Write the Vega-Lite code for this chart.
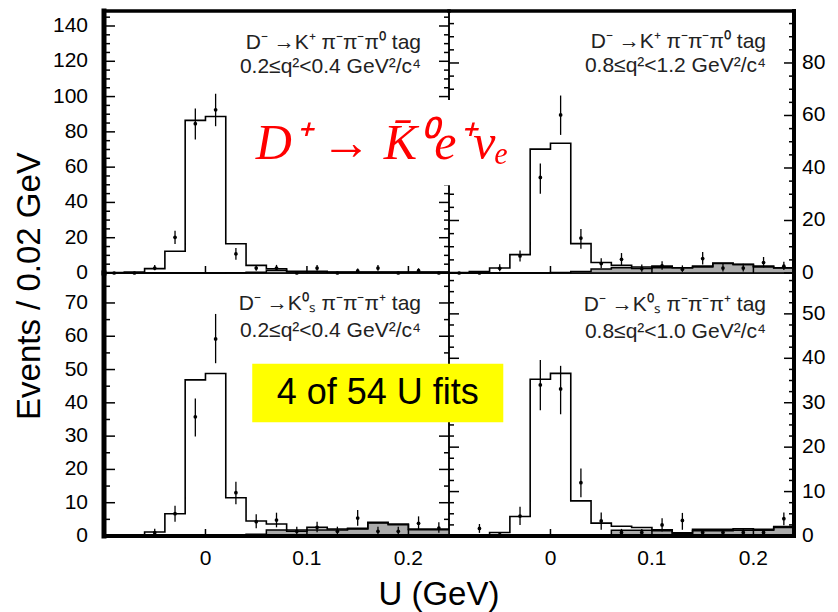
{
  "$schema": "https://vega.github.io/schema/vega-lite/v6.json",
  "background": "white",
  "padding": {"left": 13, "top": 6, "right": 5, "bottom": 3},
  "datasets": {
    "hist": [
      {"p": "TL", "u": -0.1, "tot": 0.3, "bkg": 0},
      {"p": "TL", "u": -0.08, "tot": 0.5, "bkg": 0},
      {"p": "TL", "u": -0.06, "tot": 2.5, "bkg": 0},
      {"p": "TL", "u": -0.04, "tot": 12.3, "bkg": 0},
      {"p": "TL", "u": -0.02, "tot": 86.5, "bkg": 0},
      {"p": "TL", "u": 0, "tot": 88.7, "bkg": 0},
      {"p": "TL", "u": 0.02, "tot": 16.6, "bkg": 0.1},
      {"p": "TL", "u": 0.04, "tot": 4.3, "bkg": 0.4},
      {"p": "TL", "u": 0.06, "tot": 2.4, "bkg": 1.6},
      {"p": "TL", "u": 0.08, "tot": 1.0, "bkg": 0.5},
      {"p": "TL", "u": 0.1, "tot": 1.0, "bkg": 0.5},
      {"p": "TL", "u": 0.12, "tot": 0.6, "bkg": 0.4},
      {"p": "TL", "u": 0.14, "tot": 0.5, "bkg": 0.4},
      {"p": "TL", "u": 0.16, "tot": 0.5, "bkg": 0.4},
      {"p": "TL", "u": 0.18, "tot": 0.5, "bkg": 0.4},
      {"p": "TL", "u": 0.2, "tot": 0.5, "bkg": 0.4},
      {"p": "TL", "u": 0.22, "tot": 0.5, "bkg": 0.4},
      {"p": "TL", "u": 0.24, "tot": 0.5, "bkg": 0.4},
      {"p": "TR", "u": -0.1, "tot": 0.2, "bkg": 0},
      {"p": "TR", "u": -0.08, "tot": 0.6, "bkg": 0},
      {"p": "TR", "u": -0.06, "tot": 1.9, "bkg": 0},
      {"p": "TR", "u": -0.04, "tot": 7.0, "bkg": 0},
      {"p": "TR", "u": -0.02, "tot": 47.2, "bkg": 0},
      {"p": "TR", "u": 0, "tot": 49.4, "bkg": 0.2},
      {"p": "TR", "u": 0.02, "tot": 11.2, "bkg": 0.6},
      {"p": "TR", "u": 0.04, "tot": 4.0, "bkg": 1.5},
      {"p": "TR", "u": 0.06, "tot": 2.9, "bkg": 2.0},
      {"p": "TR", "u": 0.08, "tot": 2.3, "bkg": 1.7},
      {"p": "TR", "u": 0.1, "tot": 2.6, "bkg": 2.0},
      {"p": "TR", "u": 0.12, "tot": 2.0, "bkg": 2.0},
      {"p": "TR", "u": 0.14, "tot": 2.6, "bkg": 2.3},
      {"p": "TR", "u": 0.16, "tot": 3.8, "bkg": 3.6},
      {"p": "TR", "u": 0.18, "tot": 3.3, "bkg": 3.2},
      {"p": "TR", "u": 0.2, "tot": 2.6, "bkg": 2.3},
      {"p": "TR", "u": 0.22, "tot": 2.0, "bkg": 1.9},
      {"p": "TR", "u": 0.24, "tot": 2.0, "bkg": 1.9},
      {"p": "BL", "u": -0.1, "tot": 0, "bkg": 0},
      {"p": "BL", "u": -0.08, "tot": 0, "bkg": 0},
      {"p": "BL", "u": -0.06, "tot": 1.2, "bkg": 0},
      {"p": "BL", "u": -0.04, "tot": 6.7, "bkg": 0},
      {"p": "BL", "u": -0.02, "tot": 46.9, "bkg": 0},
      {"p": "BL", "u": 0, "tot": 48.8, "bkg": 0},
      {"p": "BL", "u": 0.02, "tot": 11.5, "bkg": 0.2},
      {"p": "BL", "u": 0.04, "tot": 4.5, "bkg": 0.5},
      {"p": "BL", "u": 0.06, "tot": 3.6, "bkg": 1.8},
      {"p": "BL", "u": 0.08, "tot": 1.8, "bkg": 1.4},
      {"p": "BL", "u": 0.1, "tot": 2.6, "bkg": 1.8},
      {"p": "BL", "u": 0.12, "tot": 2.1, "bkg": 1.8},
      {"p": "BL", "u": 0.14, "tot": 2.3, "bkg": 2.1},
      {"p": "BL", "u": 0.16, "tot": 4.1, "bkg": 3.9},
      {"p": "BL", "u": 0.18, "tot": 3.6, "bkg": 3.4},
      {"p": "BL", "u": 0.2, "tot": 2.1, "bkg": 1.9},
      {"p": "BL", "u": 0.22, "tot": 2.1, "bkg": 1.9},
      {"p": "BL", "u": 0.24, "tot": 2.1, "bkg": 1.9},
      {"p": "BR", "u": -0.1, "tot": 0, "bkg": 0},
      {"p": "BR", "u": -0.08, "tot": 0, "bkg": 0},
      {"p": "BR", "u": -0.06, "tot": 0.8, "bkg": 0},
      {"p": "BR", "u": -0.04, "tot": 4.4, "bkg": 0},
      {"p": "BR", "u": -0.02, "tot": 35.3, "bkg": 0},
      {"p": "BR", "u": 0, "tot": 36.6, "bkg": 0},
      {"p": "BR", "u": 0.02, "tot": 7.9, "bkg": 0.2},
      {"p": "BR", "u": 0.04, "tot": 2.9, "bkg": 0.3},
      {"p": "BR", "u": 0.06, "tot": 2.2, "bkg": 1.3},
      {"p": "BR", "u": 0.08, "tot": 1.9, "bkg": 1.3},
      {"p": "BR", "u": 0.1, "tot": 1.4, "bkg": 1.2},
      {"p": "BR", "u": 0.12, "tot": 0.7, "bkg": 0.6},
      {"p": "BR", "u": 0.14, "tot": 1.5, "bkg": 1.2},
      {"p": "BR", "u": 0.16, "tot": 1.5, "bkg": 1.2},
      {"p": "BR", "u": 0.18, "tot": 1.6, "bkg": 1.3},
      {"p": "BR", "u": 0.2, "tot": 1.5, "bkg": 1.3},
      {"p": "BR", "u": 0.22, "tot": 2.1, "bkg": 1.9},
      {"p": "BR", "u": 0.24, "tot": 2.1, "bkg": 1.9}
    ],
    "pts": [
      {"p": "TL", "u": -0.09, "n": 0, "lo": 0, "hi": 0},
      {"p": "TL", "u": -0.07, "n": 0, "lo": 0, "hi": 0},
      {"p": "TL", "u": -0.05, "n": 2.8, "lo": 1.5, "hi": 4.5},
      {"p": "TL", "u": -0.03, "n": 20.2, "lo": 16.4, "hi": 24.0},
      {"p": "TL", "u": -0.01, "n": 84.6, "lo": 75.7, "hi": 93.3},
      {"p": "TL", "u": 0.01, "n": 92.5, "lo": 83.2, "hi": 101.6},
      {"p": "TL", "u": 0.03, "n": 10.8, "lo": 7.5, "hi": 14.1},
      {"p": "TL", "u": 0.05, "n": 2.8, "lo": 1.3, "hi": 4.6},
      {"p": "TL", "u": 0.07, "n": 2.8, "lo": 1.3, "hi": 4.6},
      {"p": "TL", "u": 0.09, "n": 0, "lo": 0, "hi": 0},
      {"p": "TL", "u": 0.11, "n": 2.8, "lo": 1.3, "hi": 4.6},
      {"p": "TL", "u": 0.13, "n": 0, "lo": 0, "hi": 0},
      {"p": "TL", "u": 0.15, "n": 1.2, "lo": 0.3, "hi": 2.6},
      {"p": "TL", "u": 0.17, "n": 2.8, "lo": 1.3, "hi": 4.6},
      {"p": "TL", "u": 0.19, "n": 0, "lo": 0, "hi": 0},
      {"p": "TL", "u": 0.21, "n": 1.3, "lo": 0.3, "hi": 2.7},
      {"p": "TL", "u": 0.23, "n": 0, "lo": 0, "hi": 0},
      {"p": "TR", "u": -0.09, "n": 0, "lo": 0, "hi": 0},
      {"p": "TR", "u": -0.07, "n": 0, "lo": 0, "hi": 0},
      {"p": "TR", "u": -0.05, "n": 1.8, "lo": 0.7, "hi": 3.3},
      {"p": "TR", "u": -0.03, "n": 6.5, "lo": 4.4, "hi": 8.6},
      {"p": "TR", "u": -0.01, "n": 36.4, "lo": 30.2, "hi": 41.7},
      {"p": "TR", "u": 0.01, "n": 60.2, "lo": 52.6, "hi": 67.6},
      {"p": "TR", "u": 0.03, "n": 13.3, "lo": 9.2, "hi": 16.8},
      {"p": "TR", "u": 0.05, "n": 3.6, "lo": 1.8, "hi": 5.6},
      {"p": "TR", "u": 0.07, "n": 5.2, "lo": 3.0, "hi": 7.6},
      {"p": "TR", "u": 0.09, "n": 1.7, "lo": 0.5, "hi": 3.2},
      {"p": "TR", "u": 0.11, "n": 2.7, "lo": 1.2, "hi": 4.5},
      {"p": "TR", "u": 0.13, "n": 1.4, "lo": 0.4, "hi": 2.9},
      {"p": "TR", "u": 0.15, "n": 5.5, "lo": 3.2, "hi": 8.0},
      {"p": "TR", "u": 0.17, "n": 1.9, "lo": 0.6, "hi": 3.5},
      {"p": "TR", "u": 0.19, "n": 1.9, "lo": 0.6, "hi": 3.5},
      {"p": "TR", "u": 0.21, "n": 4.0, "lo": 2.1, "hi": 6.1},
      {"p": "TR", "u": 0.23, "n": 2.6, "lo": 1.1, "hi": 4.3},
      {"p": "BL", "u": -0.09, "n": 0, "lo": 0, "hi": 0},
      {"p": "BL", "u": -0.07, "n": 0, "lo": 0, "hi": 0},
      {"p": "BL", "u": -0.05, "n": 1.0, "lo": 0.2, "hi": 2.2},
      {"p": "BL", "u": -0.03, "n": 6.7, "lo": 4.3, "hi": 9.1},
      {"p": "BL", "u": -0.01, "n": 35.8, "lo": 29.9, "hi": 41.3},
      {"p": "BL", "u": 0.01, "n": 59.2, "lo": 51.9, "hi": 66.7},
      {"p": "BL", "u": 0.03, "n": 13.0, "lo": 9.5, "hi": 16.3},
      {"p": "BL", "u": 0.05, "n": 4.3, "lo": 2.3, "hi": 6.5},
      {"p": "BL", "u": 0.07, "n": 4.8, "lo": 2.6, "hi": 7.0},
      {"p": "BL", "u": 0.09, "n": 1.4, "lo": 0.4, "hi": 2.8},
      {"p": "BL", "u": 0.11, "n": 2.6, "lo": 1.1, "hi": 4.3},
      {"p": "BL", "u": 0.13, "n": 1.4, "lo": 0.4, "hi": 2.8},
      {"p": "BL", "u": 0.15, "n": 5.4, "lo": 3.1, "hi": 7.8},
      {"p": "BL", "u": 0.17, "n": 1.4, "lo": 0.4, "hi": 2.8},
      {"p": "BL", "u": 0.19, "n": 1.4, "lo": 0.4, "hi": 2.8},
      {"p": "BL", "u": 0.21, "n": 3.8, "lo": 1.9, "hi": 5.9},
      {"p": "BL", "u": 0.23, "n": 2.4, "lo": 1.0, "hi": 4.1},
      {"p": "BR", "u": -0.09, "n": 0, "lo": 0, "hi": 0},
      {"p": "BR", "u": -0.07, "n": 1.7, "lo": 0.7, "hi": 2.7},
      {"p": "BR", "u": -0.05, "n": 0.3, "lo": 0.3, "hi": 0.3},
      {"p": "BR", "u": -0.03, "n": 4.5, "lo": 2.5, "hi": 6.6},
      {"p": "BR", "u": -0.01, "n": 34.0, "lo": 28.3, "hi": 39.6},
      {"p": "BR", "u": 0.01, "n": 33.1, "lo": 27.4, "hi": 38.3},
      {"p": "BR", "u": 0.03, "n": 12.0, "lo": 8.7, "hi": 15.2},
      {"p": "BR", "u": 0.05, "n": 3.4, "lo": 1.4, "hi": 5.3},
      {"p": "BR", "u": 0.07, "n": 0.8, "lo": 0.2, "hi": 1.6},
      {"p": "BR", "u": 0.09, "n": 0.8, "lo": 0.2, "hi": 1.6},
      {"p": "BR", "u": 0.11, "n": 2.5, "lo": 1.0, "hi": 4.0},
      {"p": "BR", "u": 0.13, "n": 3.5, "lo": 1.4, "hi": 5.2},
      {"p": "BR", "u": 0.15, "n": 0.8, "lo": 0.3, "hi": 1.5},
      {"p": "BR", "u": 0.17, "n": 0.8, "lo": 0.3, "hi": 1.5},
      {"p": "BR", "u": 0.19, "n": 0.8, "lo": 0.3, "hi": 1.5},
      {"p": "BR", "u": 0.21, "n": 0.8, "lo": 0.3, "hi": 1.5},
      {"p": "BR", "u": 0.23, "n": 3.9, "lo": 2.4, "hi": 5.3}
    ],
    "tX": [{"v": 0}, {"v": 0.1}, {"v": 0.2}],
    "tTLmaj": [{"v": 0}, {"v": 20}, {"v": 40}, {"v": 60}, {"v": 80}, {"v": 100}, {"v": 120}, {"v": 140}],
    "tTLmin": [{"v": 5}, {"v": 10}, {"v": 15}, {"v": 25}, {"v": 30}, {"v": 35}, {"v": 45}, {"v": 50}, {"v": 55}, {"v": 65}, {"v": 70}, {"v": 75}, {"v": 85}, {"v": 90}, {"v": 95}, {"v": 105}, {"v": 110}, {"v": 115}, {"v": 125}, {"v": 130}, {"v": 135}, {"v": 145}],
    "tTRmaj": [{"v": 0}, {"v": 20}, {"v": 40}, {"v": 60}, {"v": 80}],
    "tTRmin": [{"v": 5}, {"v": 10}, {"v": 15}, {"v": 25}, {"v": 30}, {"v": 35}, {"v": 45}, {"v": 50}, {"v": 55}, {"v": 65}, {"v": 70}, {"v": 75}, {"v": 85}, {"v": 90}, {"v": 95}],
    "tBLmaj": [{"v": 0}, {"v": 10}, {"v": 20}, {"v": 30}, {"v": 40}, {"v": 50}, {"v": 60}, {"v": 70}],
    "tBLmin": [{"v": 5}, {"v": 15}, {"v": 25}, {"v": 35}, {"v": 45}, {"v": 55}, {"v": 65}, {"v": 75}],
    "tBRmaj": [{"v": 0}, {"v": 10}, {"v": 20}, {"v": 30}, {"v": 40}, {"v": 50}],
    "tBRmin": [{"v": 2.5}, {"v": 5}, {"v": 7.5}, {"v": 12.5}, {"v": 15}, {"v": 17.5}, {"v": 22.5}, {"v": 25}, {"v": 27.5}, {"v": 32.5}, {"v": 35}, {"v": 37.5}, {"v": 42.5}, {"v": 45}, {"v": 47.5}, {"v": 52.5}, {"v": 55}, {"v": 57.5}]
  },
  "columns": 2,
  "spacing": 0,
  "bounds": "flush",
  "concat": [
    {
      "width": 345, "height": 262,
      "layer": [
        {"data": {"name": "hist"}, "transform": [{"filter": "datum.p === 'TL'"}],
         "mark": {"type": "area", "interpolate": "step-after", "color": "#ababab"},
         "encoding": {"x": {"field": "u", "type": "quantitative", "scale": {"domain": [-0.1, 0.24], "nice": false, "zero": false}, "axis": null},
                      "y": {"field": "bkg", "type": "quantitative", "scale": {"domain": [0, 148.5], "nice": false}, "axis": null}}},
        {"data": {"name": "hist"}, "transform": [{"filter": "datum.p === 'TL'"}],
         "mark": {"type": "line", "interpolate": "step-after", "color": "black", "strokeWidth": 1.5},
         "encoding": {"x": {"field": "u", "type": "quantitative", "scale": {"domain": [-0.1, 0.24], "nice": false, "zero": false}, "axis": null},
                      "y": {"field": "bkg", "type": "quantitative", "scale": {"domain": [0, 148.5], "nice": false}, "axis": null}}},
        {"data": {"name": "hist"}, "transform": [{"filter": "datum.p === 'TL'"}],
         "mark": {"type": "line", "interpolate": "step-after", "color": "black", "strokeWidth": 1.6},
         "encoding": {"x": {"field": "u", "type": "quantitative", "scale": {"domain": [-0.1, 0.24], "nice": false, "zero": false}, "axis": null},
                      "y": {"field": "tot", "type": "quantitative", "scale": {"domain": [0, 148.5], "nice": false}, "axis": null}}},
        {"data": {"name": "pts"}, "transform": [{"filter": "datum.p === 'TL'"}],
         "mark": {"type": "rule", "color": "black", "strokeWidth": 1.3},
         "encoding": {"x": {"field": "u", "type": "quantitative", "scale": {"domain": [-0.1, 0.24], "nice": false, "zero": false}, "axis": null},
                      "y": {"field": "lo", "type": "quantitative", "scale": {"domain": [0, 148.5], "nice": false}, "axis": null},
                      "y2": {"field": "hi"}}},
        {"data": {"name": "pts"}, "transform": [{"filter": "datum.p === 'TL'"}],
         "mark": {"type": "point", "filled": true, "size": 14, "color": "black", "opacity": 1},
         "encoding": {"x": {"field": "u", "type": "quantitative", "scale": {"domain": [-0.1, 0.24], "nice": false, "zero": false}, "axis": null},
                      "y": {"field": "n", "type": "quantitative", "scale": {"domain": [0, 148.5], "nice": false}, "axis": null}}},
        {"data": {"values": [{}]},
         "mark": {"type": "text", "align": "right", "baseline": "alphabetic", "font": "Liberation Sans", "fontSize": 21, "color": "#222", "lineHeight": 24},
         "encoding": {"x": {"datum": 0.2124, "type": "quantitative", "scale": {"domain": [-0.1, 0.24], "nice": false, "zero": false}, "axis": null},
                      "y": {"datum": 127.1, "type": "quantitative", "scale": {"domain": [0, 148.5], "nice": false}, "axis": null},
                      "text": {"value": ["D⁻ →K⁺ π⁻π⁻π⁰ tag", "0.2≤q²<0.4 GeV²/c⁴"]}}},
        {"data": {"name": "tTLmaj"},
         "mark": {"type": "text", "align": "right", "baseline": "middle", "dx": -16, "font": "Liberation Sans", "fontSize": 21, "color": "black"},
         "encoding": {"x": {"datum": -0.1, "type": "quantitative", "scale": {"domain": [-0.1, 0.24], "nice": false, "zero": false}, "axis": null},
                      "y": {"field": "v", "type": "quantitative", "scale": {"domain": [0, 148.5], "nice": false}, "axis": null},
                      "text": {"field": "v", "type": "quantitative", "format": "~g"}}},
        {"data": {"values": [{}]},
         "mark": {"type": "text", "align": "center", "baseline": "middle", "angle": 270, "font": "Liberation Sans", "fontSize": 33, "color": "black"},
         "encoding": {"x": {"datum": -0.1729, "type": "quantitative", "scale": {"domain": [-0.1, 0.24], "nice": false, "zero": false}, "axis": null},
                      "y": {"datum": -7.4, "type": "quantitative", "scale": {"domain": [0, 148.5], "nice": false}, "axis": null},
                      "text": {"value": "Events / 0.02 GeV"}}},
        {"data": {"name": "tTLmaj"},
         "mark": {"type": "rule", "color": "black", "strokeWidth": 1.5},
         "encoding": {"x": {"datum": -0.1, "type": "quantitative", "scale": {"domain": [-0.1, 0.24], "nice": false, "zero": false}, "axis": null},
                      "x2": {"datum": -0.08916},
                      "y": {"field": "v", "type": "quantitative", "scale": {"domain": [0, 148.5], "nice": false}, "axis": null}}},
        {"data": {"name": "tTLmin"},
         "mark": {"type": "rule", "color": "black", "strokeWidth": 1.5},
         "encoding": {"x": {"datum": -0.1, "type": "quantitative", "scale": {"domain": [-0.1, 0.24], "nice": false, "zero": false}, "axis": null},
                      "x2": {"datum": -0.09409},
                      "y": {"field": "v", "type": "quantitative", "scale": {"domain": [0, 148.5], "nice": false}, "axis": null}}},
        {"data": {"name": "tTLmaj"},
         "mark": {"type": "rule", "color": "black", "strokeWidth": 1.5},
         "encoding": {"x": {"datum": 0.24, "type": "quantitative", "scale": {"domain": [-0.1, 0.24], "nice": false, "zero": false}, "axis": null},
                      "x2": {"datum": 0.23014},
                      "y": {"field": "v", "type": "quantitative", "scale": {"domain": [0, 148.5], "nice": false}, "axis": null}}},
        {"data": {"name": "tTLmin"},
         "mark": {"type": "rule", "color": "black", "strokeWidth": 1.5},
         "encoding": {"x": {"datum": 0.24, "type": "quantitative", "scale": {"domain": [-0.1, 0.24], "nice": false, "zero": false}, "axis": null},
                      "x2": {"datum": 0.23507},
                      "y": {"field": "v", "type": "quantitative", "scale": {"domain": [0, 148.5], "nice": false}, "axis": null}}},
        {"data": {"name": "tX"},
         "mark": {"type": "rule", "color": "black", "strokeWidth": 1.5},
         "encoding": {"x": {"field": "v", "type": "quantitative", "scale": {"domain": [-0.1, 0.24], "nice": false, "zero": false}, "axis": null},
                      "y": {"datum": 0, "type": "quantitative", "scale": {"domain": [0, 148.5], "nice": false}, "axis": null},
                      "y2": {"datum": 3.97}}},
        {"data": {"values": [{}]},
         "mark": {"type": "rule", "color": "black", "strokeWidth": 5, "strokeCap": "square"},
         "encoding": {"x": {"datum": -0.1, "type": "quantitative", "scale": {"domain": [-0.1, 0.24], "nice": false, "zero": false}, "axis": null},
                      "y": {"datum": 0, "type": "quantitative", "scale": {"domain": [0, 148.5], "nice": false}, "axis": null},
                      "y2": {"datum": 148.5}}},
        {"data": {"values": [{}]},
         "mark": {"type": "rule", "color": "black", "strokeWidth": 3.5, "strokeCap": "square"},
         "encoding": {"x": {"datum": -0.1, "type": "quantitative", "scale": {"domain": [-0.1, 0.24], "nice": false, "zero": false}, "axis": null},
                      "x2": {"datum": 0.24},
                      "y": {"datum": 148.5, "type": "quantitative", "scale": {"domain": [0, 148.5], "nice": false}, "axis": null}}}
      ]
    },
    {
      "width": 345, "height": 262,
      "layer": [
        {"data": {"name": "hist"}, "transform": [{"filter": "datum.p === 'TR'"}],
         "mark": {"type": "area", "interpolate": "step-after", "color": "#ababab"},
         "encoding": {"x": {"field": "u", "type": "quantitative", "scale": {"domain": [-0.1, 0.24], "nice": false, "zero": false}, "axis": null},
                      "y": {"field": "bkg", "type": "quantitative", "scale": {"domain": [0, 99.8], "nice": false}, "axis": null}}},
        {"data": {"name": "hist"}, "transform": [{"filter": "datum.p === 'TR'"}],
         "mark": {"type": "line", "interpolate": "step-after", "color": "black", "strokeWidth": 1.5},
         "encoding": {"x": {"field": "u", "type": "quantitative", "scale": {"domain": [-0.1, 0.24], "nice": false, "zero": false}, "axis": null},
                      "y": {"field": "bkg", "type": "quantitative", "scale": {"domain": [0, 99.8], "nice": false}, "axis": null}}},
        {"data": {"name": "hist"}, "transform": [{"filter": "datum.p === 'TR'"}],
         "mark": {"type": "line", "interpolate": "step-after", "color": "black", "strokeWidth": 1.6},
         "encoding": {"x": {"field": "u", "type": "quantitative", "scale": {"domain": [-0.1, 0.24], "nice": false, "zero": false}, "axis": null},
                      "y": {"field": "tot", "type": "quantitative", "scale": {"domain": [0, 99.8], "nice": false}, "axis": null}}},
        {"data": {"name": "pts"}, "transform": [{"filter": "datum.p === 'TR'"}],
         "mark": {"type": "rule", "color": "black", "strokeWidth": 1.3},
         "encoding": {"x": {"field": "u", "type": "quantitative", "scale": {"domain": [-0.1, 0.24], "nice": false, "zero": false}, "axis": null},
                      "y": {"field": "lo", "type": "quantitative", "scale": {"domain": [0, 99.8], "nice": false}, "axis": null},
                      "y2": {"field": "hi"}}},
        {"data": {"name": "pts"}, "transform": [{"filter": "datum.p === 'TR'"}],
         "mark": {"type": "point", "filled": true, "size": 14, "color": "black", "opacity": 1},
         "encoding": {"x": {"field": "u", "type": "quantitative", "scale": {"domain": [-0.1, 0.24], "nice": false, "zero": false}, "axis": null},
                      "y": {"field": "n", "type": "quantitative", "scale": {"domain": [0, 99.8], "nice": false}, "axis": null}}},
        {"data": {"values": [{}]},
         "mark": {"type": "text", "align": "right", "baseline": "alphabetic", "font": "Liberation Sans", "fontSize": 21, "color": "#222", "lineHeight": 24},
         "encoding": {"x": {"datum": 0.2124, "type": "quantitative", "scale": {"domain": [-0.1, 0.24], "nice": false, "zero": false}, "axis": null},
                      "y": {"datum": 85.7, "type": "quantitative", "scale": {"domain": [0, 99.8], "nice": false}, "axis": null},
                      "text": {"value": ["D⁻ →K⁺ π⁻π⁻π⁰ tag", "0.8≤q²<1.2 GeV²/c⁴"]}}},
        {"data": {"name": "tTRmaj"},
         "mark": {"type": "text", "align": "left", "baseline": "middle", "dx": 8, "font": "Liberation Sans", "fontSize": 21, "color": "black"},
         "encoding": {"x": {"datum": 0.24, "type": "quantitative", "scale": {"domain": [-0.1, 0.24], "nice": false, "zero": false}, "axis": null},
                      "y": {"field": "v", "type": "quantitative", "scale": {"domain": [0, 99.8], "nice": false}, "axis": null},
                      "text": {"field": "v", "type": "quantitative", "format": "~g"}}},
        {"data": {"name": "tTRmaj"},
         "mark": {"type": "rule", "color": "black", "strokeWidth": 1.5},
         "encoding": {"x": {"datum": -0.1, "type": "quantitative", "scale": {"domain": [-0.1, 0.24], "nice": false, "zero": false}, "axis": null},
                      "x2": {"datum": -0.09014},
                      "y": {"field": "v", "type": "quantitative", "scale": {"domain": [0, 99.8], "nice": false}, "axis": null}}},
        {"data": {"name": "tTRmin"},
         "mark": {"type": "rule", "color": "black", "strokeWidth": 1.5},
         "encoding": {"x": {"datum": -0.1, "type": "quantitative", "scale": {"domain": [-0.1, 0.24], "nice": false, "zero": false}, "axis": null},
                      "x2": {"datum": -0.09507},
                      "y": {"field": "v", "type": "quantitative", "scale": {"domain": [0, 99.8], "nice": false}, "axis": null}}},
        {"data": {"name": "tTRmaj"},
         "mark": {"type": "rule", "color": "black", "strokeWidth": 1.5},
         "encoding": {"x": {"datum": 0.24, "type": "quantitative", "scale": {"domain": [-0.1, 0.24], "nice": false, "zero": false}, "axis": null},
                      "x2": {"datum": 0.23014},
                      "y": {"field": "v", "type": "quantitative", "scale": {"domain": [0, 99.8], "nice": false}, "axis": null}}},
        {"data": {"name": "tTRmin"},
         "mark": {"type": "rule", "color": "black", "strokeWidth": 1.5},
         "encoding": {"x": {"datum": 0.24, "type": "quantitative", "scale": {"domain": [-0.1, 0.24], "nice": false, "zero": false}, "axis": null},
                      "x2": {"datum": 0.23507},
                      "y": {"field": "v", "type": "quantitative", "scale": {"domain": [0, 99.8], "nice": false}, "axis": null}}},
        {"data": {"name": "tX"},
         "mark": {"type": "rule", "color": "black", "strokeWidth": 1.5},
         "encoding": {"x": {"field": "v", "type": "quantitative", "scale": {"domain": [-0.1, 0.24], "nice": false, "zero": false}, "axis": null},
                      "y": {"datum": 0, "type": "quantitative", "scale": {"domain": [0, 99.8], "nice": false}, "axis": null},
                      "y2": {"datum": 2.67}}},
        {"data": {"values": [{}]},
         "mark": {"type": "rule", "color": "black", "strokeWidth": 3.5, "strokeCap": "square"},
         "encoding": {"x": {"datum": -0.1, "type": "quantitative", "scale": {"domain": [-0.1, 0.24], "nice": false, "zero": false}, "axis": null},
                      "x2": {"datum": 0.24},
                      "y": {"datum": 99.8, "type": "quantitative", "scale": {"domain": [0, 99.8], "nice": false}, "axis": null}}},
        {"data": {"values": [{}]},
         "mark": {"type": "rule", "color": "black", "strokeWidth": 4, "strokeCap": "square"},
         "encoding": {"x": {"datum": 0.24, "type": "quantitative", "scale": {"domain": [-0.1, 0.24], "nice": false, "zero": false}, "axis": null},
                      "y": {"datum": 0, "type": "quantitative", "scale": {"domain": [0, 99.8], "nice": false}, "axis": null},
                      "y2": {"datum": 99.8}}},
        {"data": {"values": [{}]},
         "mark": {"type": "rect", "color": "white"},
         "encoding": {"x": {"datum": -0.2969, "type": "quantitative", "scale": {"domain": [-0.1, 0.24], "nice": false, "zero": false}, "axis": null},
                      "x2": {"datum": -0.0409},
                      "y": {"datum": 65.9, "type": "quantitative", "scale": {"domain": [0, 99.8], "nice": false}, "axis": null},
                      "y2": {"datum": 33.4}}},
        {"data": {"values": [{}]},
         "mark": {"type": "text", "align": "left", "baseline": "alphabetic", "font": "Liberation Serif", "fontStyle": "italic", "fontSize": 50, "color": "#ff0000"},
         "encoding": {"x": {"datum": -0.2905, "type": "quantitative", "scale": {"domain": [-0.1, 0.24], "nice": false, "zero": false}, "axis": null},
                      "y": {"datum": 43.6, "type": "quantitative", "scale": {"domain": [0, 99.8], "nice": false}, "axis": null},
                      "text": {"value": "D⁺ → K̄⁰e⁺νₑ"}}}
      ]
    },
    {
      "width": 345, "height": 263,
      "layer": [
        {"data": {"name": "hist"}, "transform": [{"filter": "datum.p === 'BL'"}],
         "mark": {"type": "area", "interpolate": "step-after", "color": "#ababab"},
         "encoding": {"x": {"field": "u", "type": "quantitative", "scale": {"domain": [-0.1, 0.24], "nice": false, "zero": false}, "axis": null},
                      "y": {"field": "bkg", "type": "quantitative", "scale": {"domain": [0, 79], "nice": false}, "axis": null}}},
        {"data": {"name": "hist"}, "transform": [{"filter": "datum.p === 'BL'"}],
         "mark": {"type": "line", "interpolate": "step-after", "color": "black", "strokeWidth": 1.5},
         "encoding": {"x": {"field": "u", "type": "quantitative", "scale": {"domain": [-0.1, 0.24], "nice": false, "zero": false}, "axis": null},
                      "y": {"field": "bkg", "type": "quantitative", "scale": {"domain": [0, 79], "nice": false}, "axis": null}}},
        {"data": {"name": "hist"}, "transform": [{"filter": "datum.p === 'BL'"}],
         "mark": {"type": "line", "interpolate": "step-after", "color": "black", "strokeWidth": 1.6},
         "encoding": {"x": {"field": "u", "type": "quantitative", "scale": {"domain": [-0.1, 0.24], "nice": false, "zero": false}, "axis": null},
                      "y": {"field": "tot", "type": "quantitative", "scale": {"domain": [0, 79], "nice": false}, "axis": null}}},
        {"data": {"name": "pts"}, "transform": [{"filter": "datum.p === 'BL'"}],
         "mark": {"type": "rule", "color": "black", "strokeWidth": 1.3},
         "encoding": {"x": {"field": "u", "type": "quantitative", "scale": {"domain": [-0.1, 0.24], "nice": false, "zero": false}, "axis": null},
                      "y": {"field": "lo", "type": "quantitative", "scale": {"domain": [0, 79], "nice": false}, "axis": null},
                      "y2": {"field": "hi"}}},
        {"data": {"name": "pts"}, "transform": [{"filter": "datum.p === 'BL'"}],
         "mark": {"type": "point", "filled": true, "size": 14, "color": "black", "opacity": 1},
         "encoding": {"x": {"field": "u", "type": "quantitative", "scale": {"domain": [-0.1, 0.24], "nice": false, "zero": false}, "axis": null},
                      "y": {"field": "n", "type": "quantitative", "scale": {"domain": [0, 79], "nice": false}, "axis": null}}},
        {"data": {"values": [{}]},
         "mark": {"type": "text", "align": "right", "baseline": "alphabetic", "font": "Liberation Sans", "fontSize": 21, "color": "#222", "lineHeight": 27},
         "encoding": {"x": {"datum": 0.2124, "type": "quantitative", "scale": {"domain": [-0.1, 0.24], "nice": false, "zero": false}, "axis": null},
                      "y": {"datum": 68.0, "type": "quantitative", "scale": {"domain": [0, 79], "nice": false}, "axis": null},
                      "text": {"value": ["D⁻ →K⁰ₛ π⁻π⁻π⁺ tag", "0.2≤q²<0.4 GeV²/c⁴"]}}},
        {"data": {"name": "tBLmaj"},
         "mark": {"type": "text", "align": "right", "baseline": "middle", "dx": -16, "font": "Liberation Sans", "fontSize": 21, "color": "black"},
         "encoding": {"x": {"datum": -0.1, "type": "quantitative", "scale": {"domain": [-0.1, 0.24], "nice": false, "zero": false}, "axis": null},
                      "y": {"field": "v", "type": "quantitative", "scale": {"domain": [0, 79], "nice": false}, "axis": null},
                      "text": {"field": "v", "type": "quantitative", "format": "~g"}}},
        {"data": {"name": "tX"},
         "mark": {"type": "text", "align": "center", "baseline": "top", "dy": 12, "font": "Liberation Sans", "fontSize": 21, "color": "black"},
         "encoding": {"x": {"field": "v", "type": "quantitative", "scale": {"domain": [-0.1, 0.24], "nice": false, "zero": false}, "axis": null},
                      "y": {"datum": 0, "type": "quantitative", "scale": {"domain": [0, 79], "nice": false}, "axis": null},
                      "text": {"field": "v", "type": "quantitative", "format": "~g"}}},
        {"data": {"values": [{}]},
         "mark": {"type": "text", "align": "center", "baseline": "middle", "font": "Liberation Sans", "fontSize": 33, "color": "black"},
         "encoding": {"x": {"datum": 0.2301, "type": "quantitative", "scale": {"domain": [-0.1, 0.24], "nice": false, "zero": false}, "axis": null},
                      "y": {"datum": -17.7, "type": "quantitative", "scale": {"domain": [0, 79], "nice": false}, "axis": null},
                      "text": {"value": "U (GeV)"}}},
        {"data": {"name": "tBLmaj"},
         "mark": {"type": "rule", "color": "black", "strokeWidth": 1.5},
         "encoding": {"x": {"datum": -0.1, "type": "quantitative", "scale": {"domain": [-0.1, 0.24], "nice": false, "zero": false}, "axis": null},
                      "x2": {"datum": -0.08916},
                      "y": {"field": "v", "type": "quantitative", "scale": {"domain": [0, 79], "nice": false}, "axis": null}}},
        {"data": {"name": "tBLmin"},
         "mark": {"type": "rule", "color": "black", "strokeWidth": 1.5},
         "encoding": {"x": {"datum": -0.1, "type": "quantitative", "scale": {"domain": [-0.1, 0.24], "nice": false, "zero": false}, "axis": null},
                      "x2": {"datum": -0.09409},
                      "y": {"field": "v", "type": "quantitative", "scale": {"domain": [0, 79], "nice": false}, "axis": null}}},
        {"data": {"name": "tBLmaj"},
         "mark": {"type": "rule", "color": "black", "strokeWidth": 1.5},
         "encoding": {"x": {"datum": 0.24, "type": "quantitative", "scale": {"domain": [-0.1, 0.24], "nice": false, "zero": false}, "axis": null},
                      "x2": {"datum": 0.23014},
                      "y": {"field": "v", "type": "quantitative", "scale": {"domain": [0, 79], "nice": false}, "axis": null}}},
        {"data": {"name": "tBLmin"},
         "mark": {"type": "rule", "color": "black", "strokeWidth": 1.5},
         "encoding": {"x": {"datum": 0.24, "type": "quantitative", "scale": {"domain": [-0.1, 0.24], "nice": false, "zero": false}, "axis": null},
                      "x2": {"datum": 0.23507},
                      "y": {"field": "v", "type": "quantitative", "scale": {"domain": [0, 79], "nice": false}, "axis": null}}},
        {"data": {"name": "tX"},
         "mark": {"type": "rule", "color": "black", "strokeWidth": 1.5},
         "encoding": {"x": {"field": "v", "type": "quantitative", "scale": {"domain": [-0.1, 0.24], "nice": false, "zero": false}, "axis": null},
                      "y": {"datum": 0, "type": "quantitative", "scale": {"domain": [0, 79], "nice": false}, "axis": null},
                      "y2": {"datum": 2.1}}},
        {"data": {"values": [{}]},
         "mark": {"type": "rule", "color": "black", "strokeWidth": 5, "strokeCap": "square"},
         "encoding": {"x": {"datum": -0.1, "type": "quantitative", "scale": {"domain": [-0.1, 0.24], "nice": false, "zero": false}, "axis": null},
                      "y": {"datum": 0, "type": "quantitative", "scale": {"domain": [0, 79], "nice": false}, "axis": null},
                      "y2": {"datum": 79}}},
        {"data": {"values": [{}]},
         "mark": {"type": "rule", "color": "black", "strokeWidth": 4, "strokeCap": "square"},
         "encoding": {"x": {"datum": -0.1, "type": "quantitative", "scale": {"domain": [-0.1, 0.24], "nice": false, "zero": false}, "axis": null},
                      "x2": {"datum": 0.24},
                      "y": {"datum": 0, "type": "quantitative", "scale": {"domain": [0, 79], "nice": false}, "axis": null}}}
      ]
    },
    {
      "width": 345, "height": 263,
      "layer": [
        {"data": {"name": "hist"}, "transform": [{"filter": "datum.p === 'BR'"}],
         "mark": {"type": "area", "interpolate": "step-after", "color": "#ababab"},
         "encoding": {"x": {"field": "u", "type": "quantitative", "scale": {"domain": [-0.1, 0.24], "nice": false, "zero": false}, "axis": null},
                      "y": {"field": "bkg", "type": "quantitative", "scale": {"domain": [0, 59.2], "nice": false}, "axis": null}}},
        {"data": {"name": "hist"}, "transform": [{"filter": "datum.p === 'BR'"}],
         "mark": {"type": "line", "interpolate": "step-after", "color": "black", "strokeWidth": 1.5},
         "encoding": {"x": {"field": "u", "type": "quantitative", "scale": {"domain": [-0.1, 0.24], "nice": false, "zero": false}, "axis": null},
                      "y": {"field": "bkg", "type": "quantitative", "scale": {"domain": [0, 59.2], "nice": false}, "axis": null}}},
        {"data": {"name": "hist"}, "transform": [{"filter": "datum.p === 'BR'"}],
         "mark": {"type": "line", "interpolate": "step-after", "color": "black", "strokeWidth": 1.6},
         "encoding": {"x": {"field": "u", "type": "quantitative", "scale": {"domain": [-0.1, 0.24], "nice": false, "zero": false}, "axis": null},
                      "y": {"field": "tot", "type": "quantitative", "scale": {"domain": [0, 59.2], "nice": false}, "axis": null}}},
        {"data": {"name": "pts"}, "transform": [{"filter": "datum.p === 'BR'"}],
         "mark": {"type": "rule", "color": "black", "strokeWidth": 1.3},
         "encoding": {"x": {"field": "u", "type": "quantitative", "scale": {"domain": [-0.1, 0.24], "nice": false, "zero": false}, "axis": null},
                      "y": {"field": "lo", "type": "quantitative", "scale": {"domain": [0, 59.2], "nice": false}, "axis": null},
                      "y2": {"field": "hi"}}},
        {"data": {"name": "pts"}, "transform": [{"filter": "datum.p === 'BR'"}],
         "mark": {"type": "point", "filled": true, "size": 14, "color": "black", "opacity": 1},
         "encoding": {"x": {"field": "u", "type": "quantitative", "scale": {"domain": [-0.1, 0.24], "nice": false, "zero": false}, "axis": null},
                      "y": {"field": "n", "type": "quantitative", "scale": {"domain": [0, 59.2], "nice": false}, "axis": null}}},
        {"data": {"values": [{}]},
         "mark": {"type": "text", "align": "right", "baseline": "alphabetic", "font": "Liberation Sans", "fontSize": 21, "color": "#222", "lineHeight": 27},
         "encoding": {"x": {"datum": 0.2124, "type": "quantitative", "scale": {"domain": [-0.1, 0.24], "nice": false, "zero": false}, "axis": null},
                      "y": {"datum": 50.6, "type": "quantitative", "scale": {"domain": [0, 59.2], "nice": false}, "axis": null},
                      "text": {"value": ["D⁻ →K⁰ₛ π⁻π⁻π⁺ tag", "0.8≤q²<1.0 GeV²/c⁴"]}}},
        {"data": {"name": "tBRmaj"},
         "mark": {"type": "text", "align": "left", "baseline": "middle", "dx": 8, "font": "Liberation Sans", "fontSize": 21, "color": "black"},
         "encoding": {"x": {"datum": 0.24, "type": "quantitative", "scale": {"domain": [-0.1, 0.24], "nice": false, "zero": false}, "axis": null},
                      "y": {"field": "v", "type": "quantitative", "scale": {"domain": [0, 59.2], "nice": false}, "axis": null},
                      "text": {"field": "v", "type": "quantitative", "format": "~g"}}},
        {"data": {"name": "tX"},
         "mark": {"type": "text", "align": "center", "baseline": "top", "dy": 12, "font": "Liberation Sans", "fontSize": 21, "color": "black"},
         "encoding": {"x": {"field": "v", "type": "quantitative", "scale": {"domain": [-0.1, 0.24], "nice": false, "zero": false}, "axis": null},
                      "y": {"datum": 0, "type": "quantitative", "scale": {"domain": [0, 59.2], "nice": false}, "axis": null},
                      "text": {"field": "v", "type": "quantitative", "format": "~g"}}},
        {"data": {"name": "tBRmaj"},
         "mark": {"type": "rule", "color": "black", "strokeWidth": 1.5},
         "encoding": {"x": {"datum": -0.1, "type": "quantitative", "scale": {"domain": [-0.1, 0.24], "nice": false, "zero": false}, "axis": null},
                      "x2": {"datum": -0.09014},
                      "y": {"field": "v", "type": "quantitative", "scale": {"domain": [0, 59.2], "nice": false}, "axis": null}}},
        {"data": {"name": "tBRmin"},
         "mark": {"type": "rule", "color": "black", "strokeWidth": 1.5},
         "encoding": {"x": {"datum": -0.1, "type": "quantitative", "scale": {"domain": [-0.1, 0.24], "nice": false, "zero": false}, "axis": null},
                      "x2": {"datum": -0.09507},
                      "y": {"field": "v", "type": "quantitative", "scale": {"domain": [0, 59.2], "nice": false}, "axis": null}}},
        {"data": {"name": "tBRmaj"},
         "mark": {"type": "rule", "color": "black", "strokeWidth": 1.5},
         "encoding": {"x": {"datum": 0.24, "type": "quantitative", "scale": {"domain": [-0.1, 0.24], "nice": false, "zero": false}, "axis": null},
                      "x2": {"datum": 0.23014},
                      "y": {"field": "v", "type": "quantitative", "scale": {"domain": [0, 59.2], "nice": false}, "axis": null}}},
        {"data": {"name": "tBRmin"},
         "mark": {"type": "rule", "color": "black", "strokeWidth": 1.5},
         "encoding": {"x": {"datum": 0.24, "type": "quantitative", "scale": {"domain": [-0.1, 0.24], "nice": false, "zero": false}, "axis": null},
                      "x2": {"datum": 0.23507},
                      "y": {"field": "v", "type": "quantitative", "scale": {"domain": [0, 59.2], "nice": false}, "axis": null}}},
        {"data": {"name": "tX"},
         "mark": {"type": "rule", "color": "black", "strokeWidth": 1.5},
         "encoding": {"x": {"field": "v", "type": "quantitative", "scale": {"domain": [-0.1, 0.24], "nice": false, "zero": false}, "axis": null},
                      "y": {"datum": 0, "type": "quantitative", "scale": {"domain": [0, 59.2], "nice": false}, "axis": null},
                      "y2": {"datum": 1.58}}},
        {"data": {"values": [{}]},
         "mark": {"type": "rule", "color": "black", "strokeWidth": 4, "strokeCap": "square"},
         "encoding": {"x": {"datum": 0.24, "type": "quantitative", "scale": {"domain": [-0.1, 0.24], "nice": false, "zero": false}, "axis": null},
                      "y": {"datum": 0, "type": "quantitative", "scale": {"domain": [0, 59.2], "nice": false}, "axis": null},
                      "y2": {"datum": 59.2}}},
        {"data": {"values": [{}]},
         "mark": {"type": "rule", "color": "black", "strokeWidth": 4, "strokeCap": "square"},
         "encoding": {"x": {"datum": -0.1, "type": "quantitative", "scale": {"domain": [-0.1, 0.24], "nice": false, "zero": false}, "axis": null},
                      "x2": {"datum": 0.24},
                      "y": {"datum": 0, "type": "quantitative", "scale": {"domain": [0, 59.2], "nice": false}, "axis": null}}},
        {"data": {"values": [{}]},
         "mark": {"type": "rect", "color": "#ffff00"},
         "encoding": {"x": {"datum": -0.2939, "type": "quantitative", "scale": {"domain": [-0.1, 0.24], "nice": false, "zero": false}, "axis": null},
                      "x2": {"datum": -0.0465},
                      "y": {"datum": 38.8, "type": "quantitative", "scale": {"domain": [0, 59.2], "nice": false}, "axis": null},
                      "y2": {"datum": 25.6}}},
        {"data": {"values": [{}]},
         "mark": {"type": "text", "align": "center", "baseline": "middle", "font": "Liberation Sans", "fontSize": 36, "color": "black"},
         "encoding": {"x": {"datum": -0.1702, "type": "quantitative", "scale": {"domain": [-0.1, 0.24], "nice": false, "zero": false}, "axis": null},
                      "y": {"datum": 32.2, "type": "quantitative", "scale": {"domain": [0, 59.2], "nice": false}, "axis": null},
                      "text": {"value": "4 of 54 U fits"}}}
      ]
    }
  ],
  "config": {
    "view": {"stroke": "black", "strokeWidth": 1.5}
  }
}
